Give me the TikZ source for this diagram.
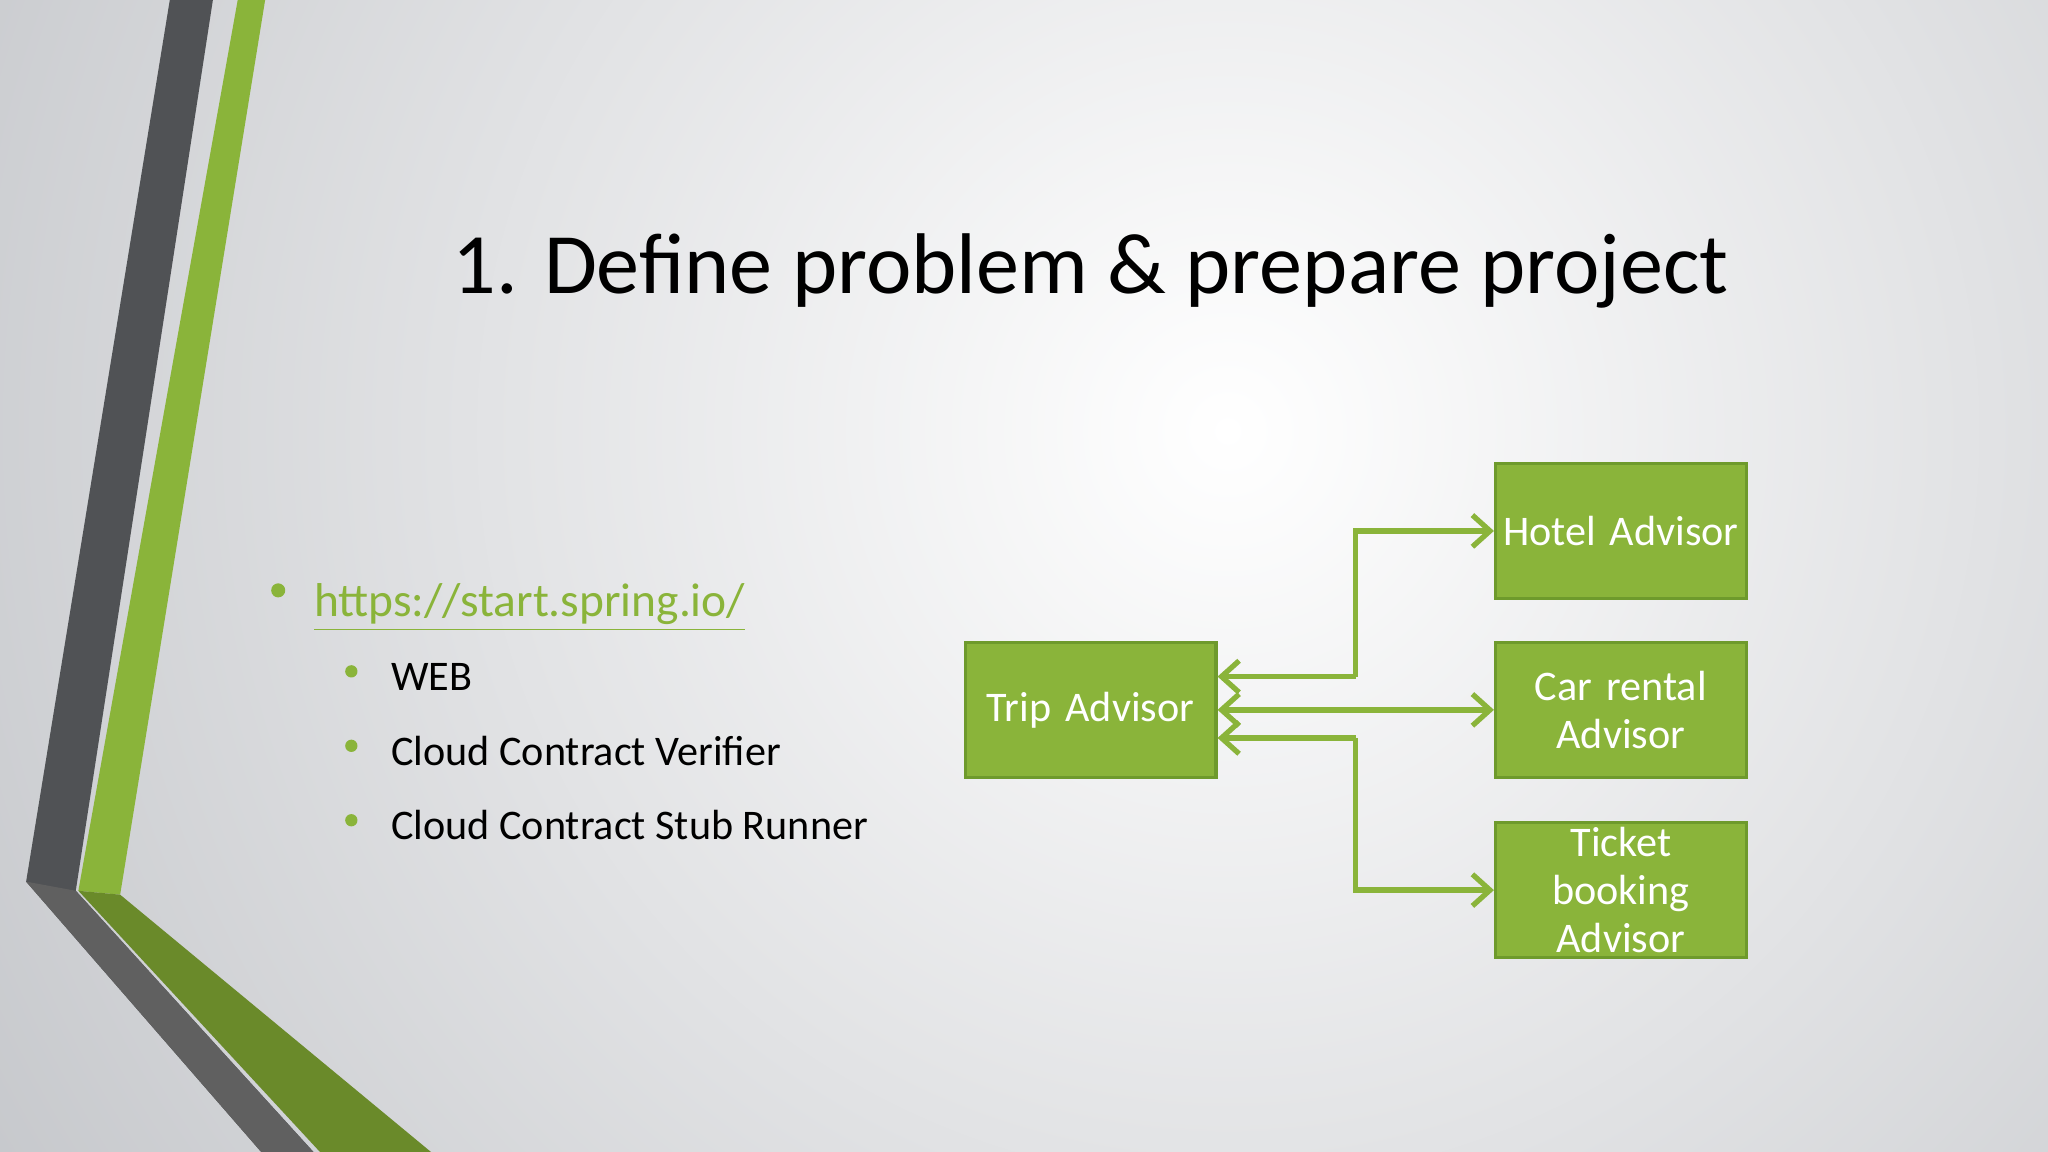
\documentclass[tikz,border=0pt]{standalone}
\usepackage{fontspec}
\setmainfont{Carlito}
\usetikzlibrary{arrows.meta}
\definecolor{gr}{HTML}{8AB43A}
\definecolor{grd}{HTML}{6E9A2C}
\definecolor{grdk}{HTML}{6A8A2A}
\definecolor{dk}{HTML}{505255}
\definecolor{bgo}{HTML}{C4C6CA}
\tikzset{box/.style={draw=grd,fill=gr,line width=0.9pt,text=white,font=\fontsize{12}{13.6}\selectfont,align=center,inner sep=0pt,text width=188*0.01306cm,minimum width=192*0.01306cm,minimum height=103*0.01306cm},
con/.style={draw=gr,line width=1.5pt,-{Straight Barb[length=5pt,width=9pt]}},
blt/.style={circle,fill=gr,inner sep=0pt,minimum size=4pt}}
\begin{document}
\begin{tikzpicture}[x=0.01306cm,y=-0.01306cm]
\useasboundingbox (0,0) rectangle (1568,882);
\begin{scope}
\clip (0,0) rectangle (1568,882);
\shade[inner color=white,outer color=bgo] (940,330) circle (1150);
\end{scope}
% decoration
\fill[dk] (130,0)--(163,0)--(58,682)--(240,882)--(200,882)--(20,675)--cycle;
\fill[gr] (182,0)--(203,0)--(92,685)--(60,682)--cycle;
\fill[grdk] (60,682)--(92,685)--(330,882)--(245,882)--cycle;
\fill[gray!75!black] (20,675)--(58,682)--(240,882)--(200,882)--cycle;
% title
\node[font=\fontsize{24.5}{29}\selectfont,anchor=base] (title) at (835,225) {1. Define problem \& prepare project};
% bullets
\node[blt] (b0) at (213,452) {};
\node[anchor=base west,inner sep=0pt,text=gr,font=\fontsize{13.5}{16}\selectfont] (link) at (240,472) {\underline{https://start.spring.io/}};
\foreach \t/\y [count=\i] in {WEB/529,Cloud Contract Verifier/586,Cloud Contract Stub Runner/643}{
  \node[blt,minimum size=3.5pt] (sb\i) at (269,\y-15) {};
  \node[anchor=base west,inner sep=0pt,font=\fontsize{12}{14}\selectfont] (s\i) at (299,\y) {\t};
}
% boxes
\node[box] (trip) at (835,543.5) {Trip Advisor};
\node[box] (hotel) at (1241,406.5) {Hotel Advisor};
\node[box] (car) at (1241,543.5) {Car rental\\Advisor};
\node[box] (ticket) at (1241,681.5) {Ticket\\booking\\Advisor};
% connectors
\coordinate (j1) at (1038,518);
\coordinate (j2) at (1038,565);
\draw[con] (j1) |- (hotel.west);
\draw[con] (j1) -- (trip.east |- j1);
\draw[con,{Straight Barb[length=5pt,width=9pt]}-{Straight Barb[length=5pt,width=9pt]}] (trip.east) -- (car.west);
\draw[con] (j2) |- (ticket.west);
\draw[con] (j2) -- (trip.east |- j2);
\end{tikzpicture}
\end{document}
